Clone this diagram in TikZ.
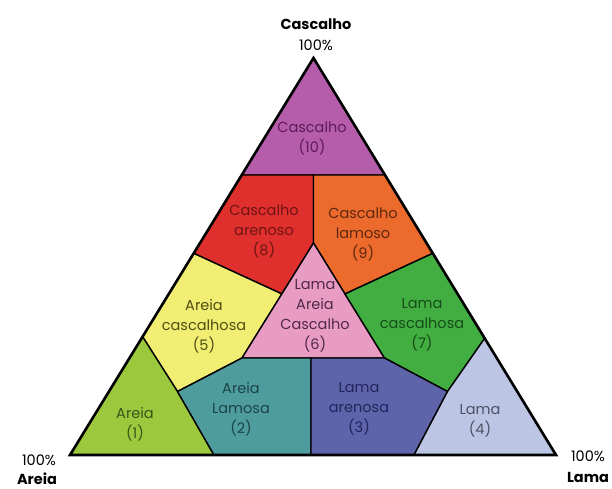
\documentclass[tikz,border=0pt]{standalone}
\usepackage{fontspec}
\setmainfont{Poppins}
\usetikzlibrary{calc}
\definecolor{c10}{HTML}{B55DAB}
\definecolor{c8}{HTML}{E0302E}
\definecolor{c9}{HTML}{EC6A2C}
\definecolor{c5}{HTML}{F2EE74}
\definecolor{c6}{HTML}{E99CC2}
\definecolor{c7}{HTML}{42AE42}
\definecolor{c1}{HTML}{9BC83C}
\definecolor{c2}{HTML}{4F9C9E}
\definecolor{c3}{HTML}{5E64AA}
\definecolor{c4}{HTML}{BCC5E3}
\definecolor{t10}{HTML}{5E1A56}
\definecolor{t8}{HTML}{6E1414}
\definecolor{t9}{HTML}{5E2810}
\definecolor{t5}{HTML}{4E4E10}
\definecolor{t6}{HTML}{502848}
\definecolor{t7}{HTML}{164C18}
\definecolor{t1}{HTML}{36561C}
\definecolor{t2}{HTML}{1A4448}
\definecolor{t3}{HTML}{20265C}
\definecolor{t4}{HTML}{4C5266}
\tikzset{
  region/.style={draw=black, line width=1.4pt, line join=round},
  lab/.style={align=center, font=\fontsize{14.5}{20}\selectfont, inner sep=0pt},
  corner/.style={align=center, inner sep=0pt, font=\fontsize{14.5}{20}\selectfont},
  title/.style={align=center, inner sep=0pt, font=\fontsize{14.5}{20}\selectfont\bfseries},
}
\begin{document}
\begin{tikzpicture}[x=1pt,y=-1pt]
\useasboundingbox (0,0) rectangle (612,489);
% main vertices
\coordinate (A) at (313.5,58);
\coordinate (BL) at (70,455);
\coordinate (BR) at (556,455);
% points on edges
\coordinate (P1) at ($(A)!0.2947!(BL)$);
\coordinate (P2) at ($(A)!0.2947!(BR)$);
\coordinate (L1) at ($(A)!0.492!(BL)$);
\coordinate (R1) at ($(A)!0.492!(BR)$);
\coordinate (L2) at ($(A)!0.702!(BL)$);
\coordinate (R2) at ($(A)!0.706!(BR)$);
\coordinate (B1) at (214,455);
\coordinate (B2) at (311,455);
\coordinate (B3) at (414,455);
% interior points
\coordinate (P3) at (313.5,175);
\coordinate (T6) at (313.5,243);
\coordinate (M1) at (242,358);
\coordinate (M2) at (311,358);
\coordinate (M3) at (384.5,358);
\coordinate (Q1) at ($(T6)!0.443!(M1)$);
\coordinate (Q2) at ($(T6)!0.443!(M3)$);
\coordinate (N1) at (177.5,391.5);
\coordinate (N2) at (447.5,391.5);
% regions
\filldraw[region, fill=c10] (A) -- (P2) -- (P1) -- cycle;
\filldraw[region, fill=c8] (P1) -- (P3) -- (T6) -- (Q1) -- (L1) -- cycle;
\filldraw[region, fill=c9] (P3) -- (P2) -- (R1) -- (Q2) -- (T6) -- cycle;
\filldraw[region, fill=c5] (L1) -- (Q1) -- (M1) -- (N1) -- (L2) -- cycle;
\filldraw[region, fill=c6] (T6) -- (M3) -- (M1) -- cycle;
\filldraw[region, fill=c7] (R1) -- (R2) -- (N2) -- (M3) -- (Q2) -- cycle;
\filldraw[region, fill=c1] (L2) -- (N1) -- (B1) -- (BL) -- cycle;
\filldraw[region, fill=c2] (N1) -- (M1) -- (M2) -- (B2) -- (B1) -- cycle;
\filldraw[region, fill=c3] (M2) -- (M3) -- (N2) -- (B3) -- (B2) -- cycle;
\filldraw[region, fill=c4] (R2) -- (BR) -- (B3) -- (N2) -- cycle;
\draw[line width=2.6pt, line join=miter] (A) -- (BL) -- (BR) -- cycle;
% region labels
\node[lab, text=t10] (l10) at (312,138) {Cascalho\\(10)};
\node[lab, text=t8]  (l8)  at (264,231) {Cascalho\\arenoso\\(8)};
\node[lab, text=t9]  (l9)  at (363,234) {Cascalho\\lamoso\\(9)};
\node[lab, text=t5]  (l5)  at (204,326) {Areia\\cascalhosa\\(5)};
\node[lab, text=t6]  (l6)  at (315,316) {Lama\\Areia\\Cascalho\\(6)};
\node[lab, text=t7]  (l7)  at (422,325) {Lama\\cascalhosa\\(7)};
\node[lab, text=t1]  (l1)  at (135,424) {Areia\\(1)};
\node[lab, text=t2]  (l2)  at (241,409) {Areia\\Lamosa\\(2)};
\node[lab, text=t3]  (l3)  at (359,409) {Lama\\arenosa\\(3)};
\node[lab, text=t4]  (l4)  at (480,421) {Lama\\(4)};
% corner labels
\node[title] (gtitle) at (316,24) {Cascalho};
\node[corner] (gpct) at (316,45) {100\%};
\node[corner] (spct) at (39,460) {100\%};
\node[title] (stitle) at (37,479) {Areia};
\node[corner] (mpct) at (588,456) {100\%};
\node[title] (mtitle) at (588,477) {Lama};
\end{tikzpicture}
\end{document}
